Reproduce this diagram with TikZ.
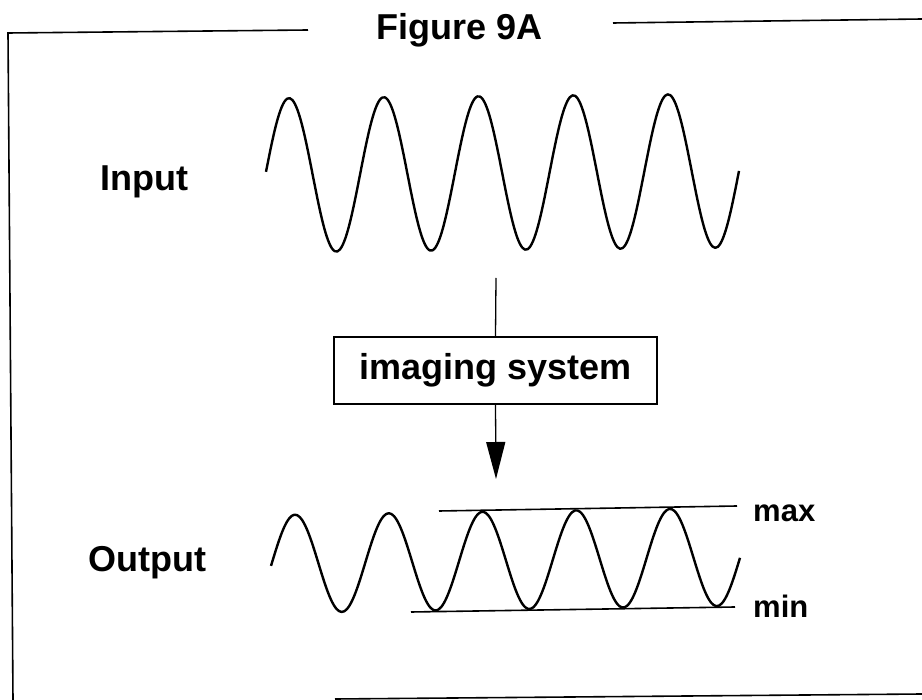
\documentclass[tikz,border=0pt]{standalone}
\usepackage{fontspec}
\setmainfont{Liberation Sans}
\usetikzlibrary{arrows.meta}

\begin{document}
\begin{tikzpicture}[
    x=1pt, y=-1pt,
    >={Triangle[length=37pt, width=19pt]},
    frame/.style={line width=1.6pt},
    wave/.style={line width=2.4pt, line join=round, smooth},
    feedline/.style={line width=1.3pt},
    lbl/.style={font=\bfseries\fontsize{36}{40}\selectfont, inner sep=0pt},
    tag/.style={font=\bfseries\fontsize{31}{36}\selectfont, inner sep=0pt,
                anchor=base west},
    sysbox/.style={draw, line width=1.5pt, minimum width=323pt, minimum height=67pt,
                   inner sep=0pt, font=\bfseries\fontsize{36}{40}\selectfont}
  ]
  \useasboundingbox (0,0) rectangle (922,700);
  \node[lbl, anchor=base] (title) at (460,40) {Figure 9A};
  \draw[frame] (13,700) -- (8,33) -- (308,30);
  \draw[frame] (613,23) -- (922,19);
  \draw[frame] (335,699) -- (922,694);

  \node[lbl, anchor=base west] (input) at (100,191) {Input};
  \node[lbl, anchor=base west] (output) at (88,572) {Output};
  \draw[wave] plot[domain=266:739, samples=180]
    (\x, {173 - 0.01*(\x-500) - 77*cos(3.7995*(\x-289))});
  \draw[wave] plot[domain=271:740, samples=180]
    (\x, {560.5 - 0.0155*(\x-500) - 49*cos(3.84*(\x-295))});

  \node[sysbox] (sys) at (495.5,370.5) {imaging system};
  \coordinate (feed) at (496,278);
  \coordinate (tip) at (496,479);
  \draw[feedline] (feed) -- (sys.north);
  \draw[feedline, ->] (sys.south) -- (tip);

  \draw[frame] (439,511) -- (737,506);
  \draw[frame] (411,612) -- (735,607);
  \node[tag] (maxtag) at (753,522) {max};
  \node[tag] (mintag) at (753,618) {min};
\end{tikzpicture}
\end{document}
